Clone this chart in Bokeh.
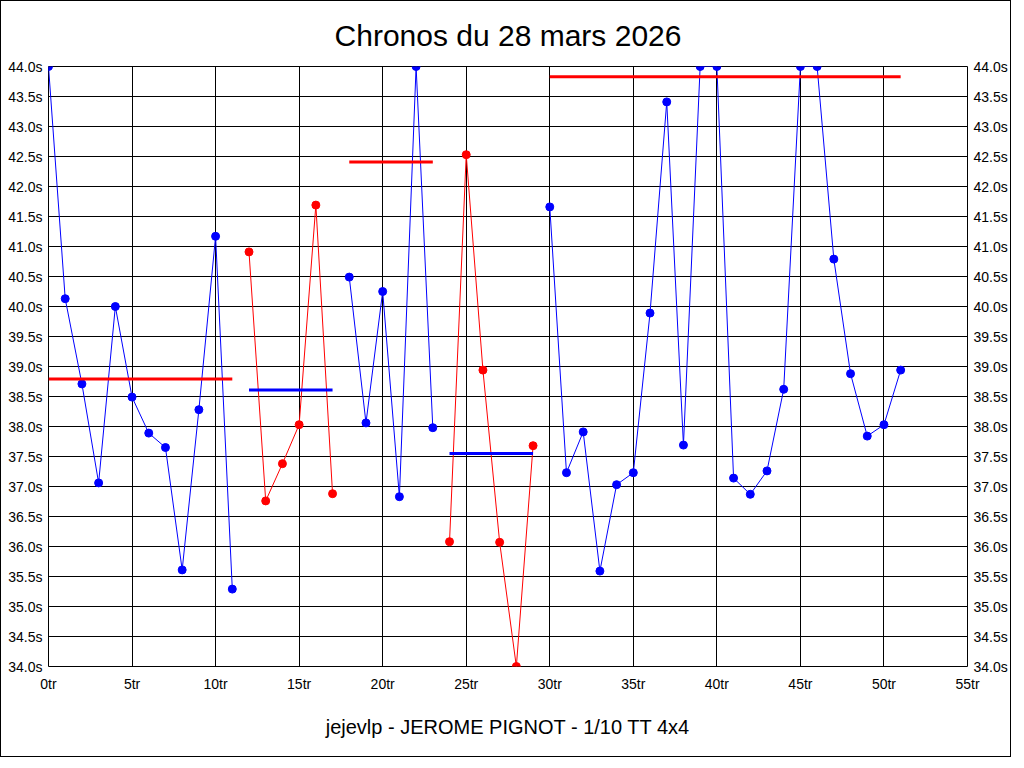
from bokeh.plotting import figure
from bokeh.models import Range1d, LinearAxis, FixedTicker, PrintfTickFormatter, Title
from bokeh.embed import file_html
from bokeh.resources import INLINE

# ---- data ----
run_start = [0, 12, 18, 24, 30]
run_times = [
    [44.0, 40.13, 38.71, 37.06, 40.0, 38.49, 37.89, 37.65, 35.61, 38.28, 41.17, 35.29],
    [40.91, 36.76, 37.38, 38.03, 41.69, 36.88],
    [40.49, 38.06, 40.25, 36.83, 44.0, 37.98],
    [36.08, 42.53, 38.94, 36.07, 34.0, 37.68],
    [41.66, 37.23, 37.91, 35.59, 37.03, 37.23, 39.89, 43.41, 37.69, 44.0, 44.0,
     37.14, 36.87, 37.26, 38.62, 44.0, 44.0, 40.79, 38.88, 37.84, 38.03, 38.94],
]
run_colors = ["#0000FF", "#FF0000", "#0000FF", "#FF0000", "#0000FF"]
mean_start = [0, 12, 18, 24, 30]
mean_end = [11, 17, 23, 29, 51]
mean_values = [38.79, 38.61, 42.41, 37.55, 43.83]
mean_colors = ["#FF0000", "#0000FF", "#FF0000", "#0000FF", "#FF0000"]

x_ticks = [0, 5, 10, 15, 20, 25, 30, 35, 40, 45, 50, 55]
y_ticks = [34.0, 34.5, 35.0, 35.5, 36.0, 36.5, 37.0, 37.5, 38.0, 38.5, 39.0,
           39.5, 40.0, 40.5, 41.0, 41.5, 42.0, 42.5, 43.0, 43.5, 44.0]
title_text = "Chronos du 28 mars 2026"
footer_text = "jejevlp - JEROME PIGNOT - 1/10 TT 4x4"

FONT = "Liberation Sans"

p = figure(
    frame_width=919, frame_height=600,
    min_border_left=47, min_border_right=40, min_border_top=65, min_border_bottom=85,
    x_range=Range1d(0, 55), y_range=Range1d(34, 44),
    output_backend="svg", toolbar_location=None,
    background_fill_color="white", border_fill_color="white",
)
p.styles = {"border": "1px solid black"}

p.title.text = title_text
p.title.align = "center"
p.title.text_font = FONT
p.title.text_font_size = "30px"
p.title.text_font_style = "normal"
p.title.text_color = "black"
p.title.standoff = 29

p.outline_line_color = "black"
p.outline_line_width = 1
p.outline_line_alpha = 1

def style_axis(ax):
    ax.major_tick_line_color = None
    ax.minor_tick_line_color = None
    ax.axis_line_color = None
    ax.major_label_text_font = FONT
    ax.major_label_text_font_size = "14px"
    ax.major_label_text_color = "black"

p.xaxis.ticker = FixedTicker(ticks=x_ticks)
p.xaxis.formatter = PrintfTickFormatter(format="%dtr")
p.xaxis.major_label_standoff = 3
p.yaxis.ticker = FixedTicker(ticks=y_ticks)
p.yaxis.formatter = PrintfTickFormatter(format="%.1fs")
p.yaxis.major_label_standoff = 0
style_axis(p.xaxis[0])
style_axis(p.yaxis[0])

ry = LinearAxis(ticker=FixedTicker(ticks=y_ticks), formatter=PrintfTickFormatter(format="%.1fs"))
ry.major_label_standoff = 0
style_axis(ry)
p.add_layout(ry, "right")

p.xgrid.ticker = FixedTicker(ticks=x_ticks)
p.ygrid.ticker = FixedTicker(ticks=y_ticks)
for g in (p.xgrid[0], p.ygrid[0]):
    g.grid_line_color = "black"
    g.grid_line_alpha = 1
    g.grid_line_width = 1

footer = Title(text=footer_text, align="center", text_font=FONT, text_font_size="20px",
               text_font_style="normal", text_color="black", standoff=38)
p.add_layout(footer, "below")

# data lines and points
for start, times, col in zip(run_start, run_times, run_colors):
    xs = [start + i for i in range(len(times))]
    p.line(xs, times, line_color=col, line_width=1)
    p.scatter(xs, times, size=8, fill_color=col, line_color=col)

# mean lines
p.segment(x0=mean_start, y0=mean_values, x1=mean_end, y1=mean_values,
          line_color=mean_colors, line_width=3)

open("out.html", "w").write(file_html(p, INLINE))
